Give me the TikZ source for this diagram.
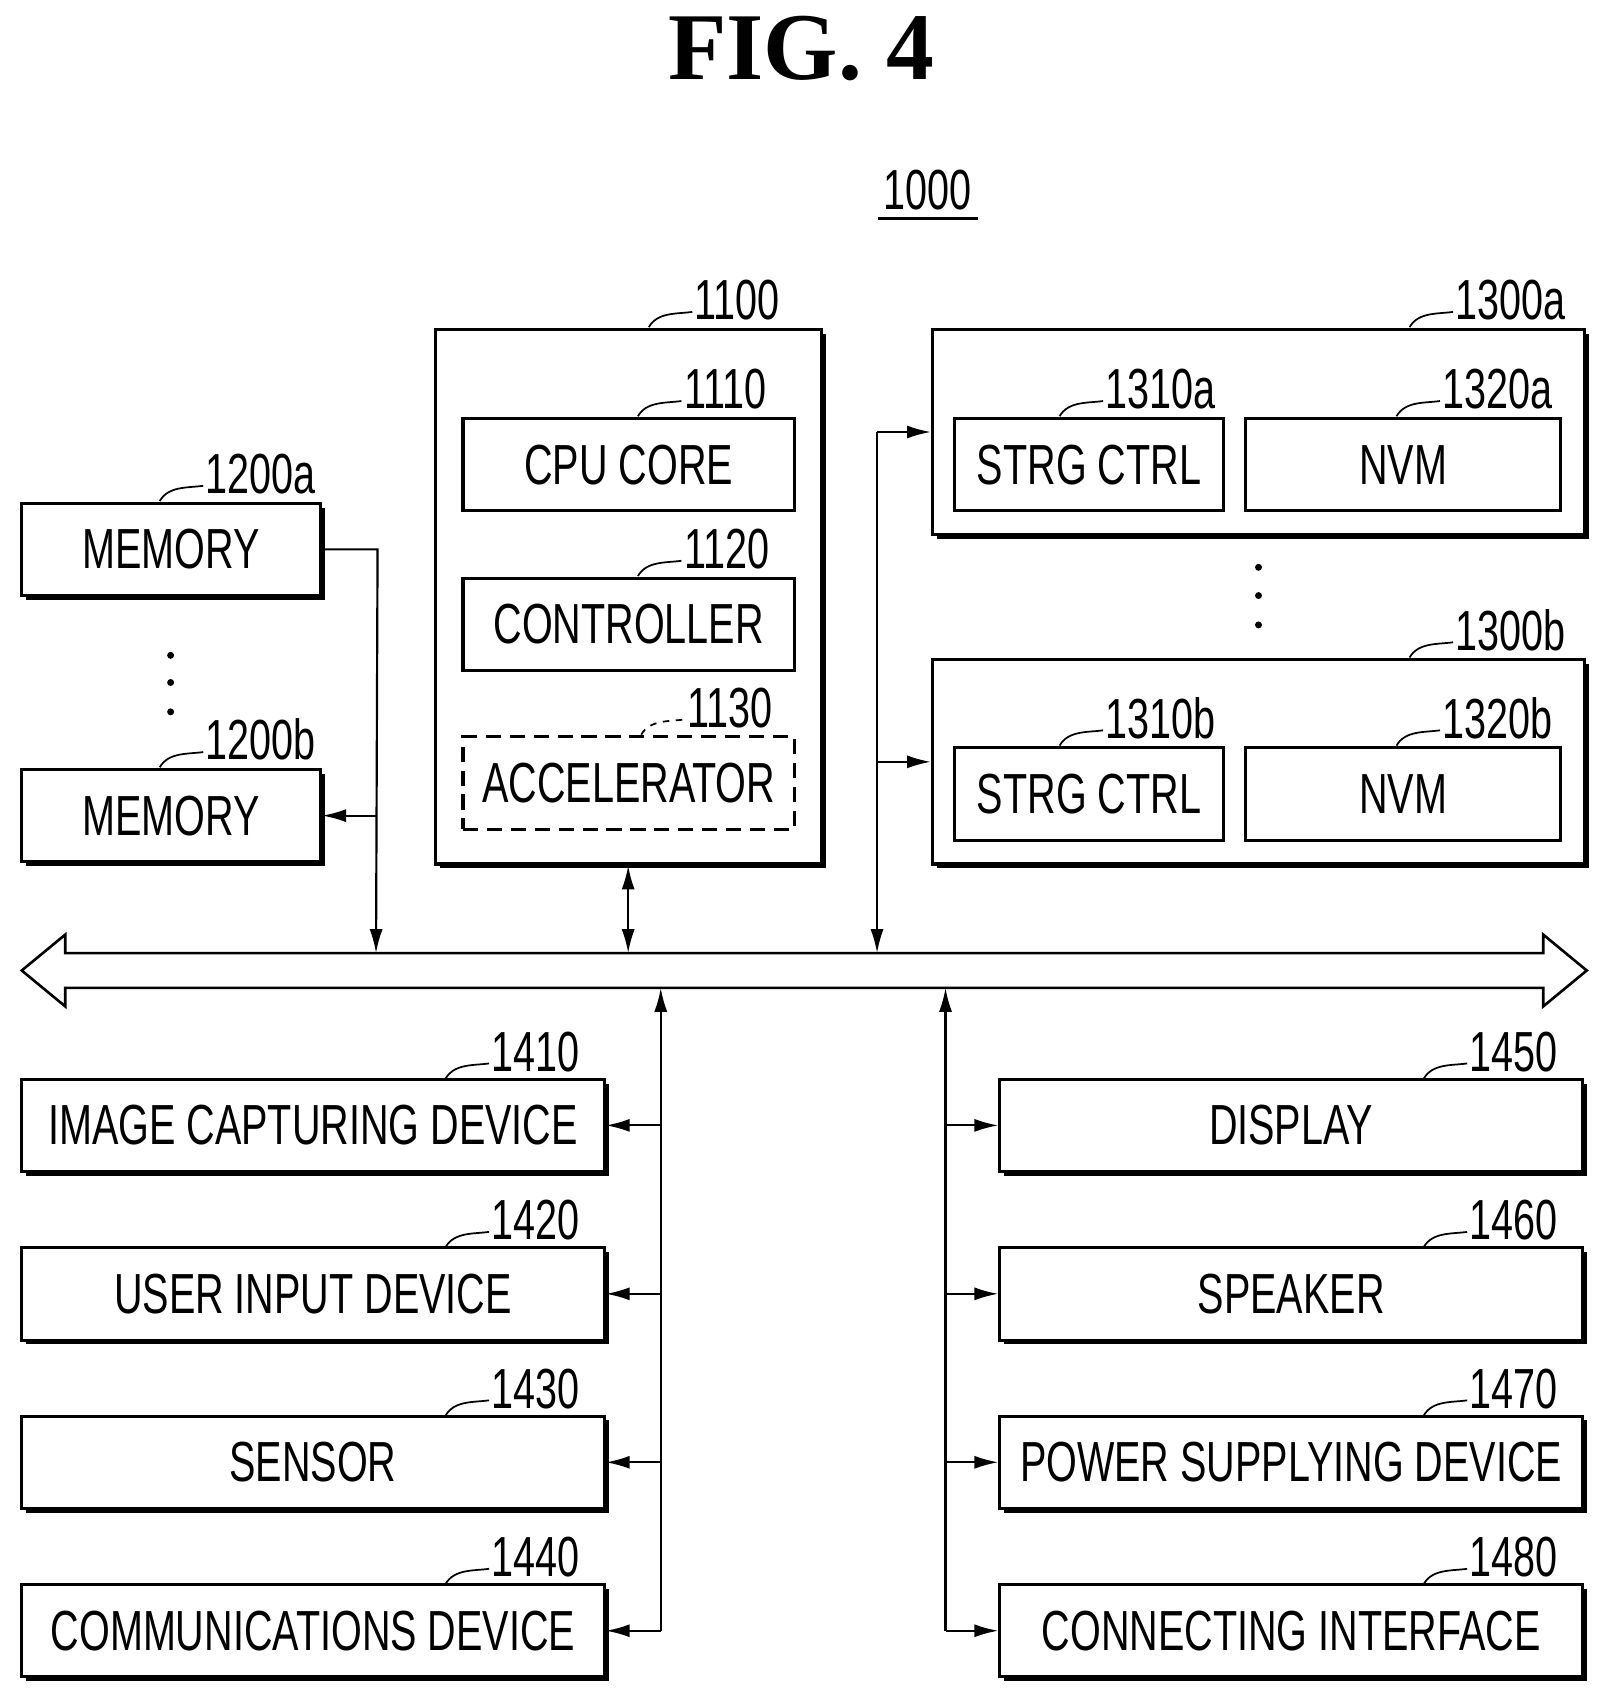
\documentclass[tikz,border=0pt]{standalone}
\usepackage{fontspec}
\setmainfont{Liberation Sans}[FakeStretch=0.7]
\newfontfamily\titlefont{Liberation Serif}
\usetikzlibrary{arrows.meta,shadows}
\newcommand\reflab[3][]{\draw[line width=0.8pt,#1] (#2) .. controls +(8,-14) and +(-14,2) .. ++(40,-14) coordinate (tmp);
  \node[lbl] at ([xshift=1pt,yshift=-4pt]tmp) {#3};}
\begin{document}
\begin{tikzpicture}[x=0.5pt,y=-0.5pt,
  box/.style={draw,line width=1.4pt,fill=white,inner sep=0pt,
    drop shadow={shadow xshift=2pt,shadow yshift=-2pt,fill=black,opacity=1},
    font=\fontsize{26}{30}\selectfont},
  ibox/.style={draw,line width=1.4pt,fill=white,inner sep=0pt,font=\fontsize{26}{30}\selectfont},
  lbl/.style={font=\fontsize{26}{30}\selectfont,anchor=south west,inner sep=0pt},
  arr/.style={line width=1pt,-{Latex[length=11pt,width=6pt]}},
  darr/.style={line width=1pt,{Latex[length=11pt,width=6pt]}-{Latex[length=11pt,width=6pt]}}]
\useasboundingbox (0,0) rectangle (1480,1567);
\node[font=\titlefont\bfseries\fontsize{44}{50}\selectfont] (title) at (737,45) {FIG. 4};
\node[font=\fontsize{26}{30}\selectfont] (sys) at (853,175) {1000};
\draw[line width=1pt] (808,201) -- (900,201);
% 1100
\node[box,minimum width=177.5pt,minimum height=246pt] (p) at (578.5,549) {};
\node[ibox,minimum width=152.5pt,minimum height=42.5pt] (cpu) at (578.5,427.5) {CPU CORE};
\node[ibox,minimum width=152.5pt,minimum height=42.5pt] (ctl) at (578.5,574.5) {CONTROLLER};
\node[ibox,dashed,dash pattern=on 7pt off 4pt,minimum width=152.5pt,minimum height=42.5pt] (acc) at (578.5,720.5) {ACCELERATOR};
\reflab{597,301}{1100}
\reflab{587,383}{1110}
\reflab{587,530}{1120}
\reflab[dashed]{590,676}{1130}
% storage
\node[box,minimum width=300pt,minimum height=94.5pt] (sa) at (1158,397.5) {};
\node[ibox,minimum width=124pt,minimum height=42.5pt] (sca) at (1002,427.5) {STRG CTRL};
\node[ibox,minimum width=145pt,minimum height=42.5pt] (nva) at (1291,427.5) {NVM};
\node[box,minimum width=300pt,minimum height=94pt] (sb) at (1158,701) {};
\node[ibox,minimum width=124pt,minimum height=42.5pt] (scb) at (1002,730.5) {STRG CTRL};
\node[ibox,minimum width=145pt,minimum height=42.5pt] (nvb) at (1291,730.5) {NVM};
\reflab{1297,301}{1300a}
\reflab{975,383}{1310a}
\reflab{1285,383}{1320a}
\reflab{1297,605}{1300b}
\reflab{975,686}{1310b}
\reflab{1285,686}{1320b}
\foreach \yy in {522,548,575} \fill (1158,\yy) circle (1.6pt);
% memory
\node[box,minimum width=137.5pt,minimum height=42.5pt] (ma) at (157.5,505.5) {MEMORY};
\node[box,minimum width=137.5pt,minimum height=42.5pt] (mb) at (157.5,750.5) {MEMORY};
\reflab{147,461}{1200a}
\reflab{147,706}{1200b}
\foreach \yy in {603,628,655} \fill (157,\yy) circle (1.6pt);
% bus
\draw[line width=1.2pt] (20,893) -- (60,860) -- (60,877) -- (1420,877) -- (1420,860) -- (1460,893) -- (1420,926) -- (1420,909) -- (60,909) -- (60,926) -- cycle;
\coordinate (bm) at (346,877);
\coordinate (bp) at (578,877);
\coordinate (bs) at (807,877);
\coordinate (bl) at (608,909);
\coordinate (br) at (870,909);
\draw[arr] (ma.east) -- ++(51,0) coordinate (mt) -- (bm);
\draw[arr] (bm |- mb.east) -- (mb.east);
\draw[darr] (p.south -| bp) -- (bp);
\draw[arr] (sca.center -| bs) ++(0,-30) coordinate (st) -- (bs);
\draw[arr] (st) -- (st -| sa.west);
\draw[arr] (bs |- sb.west) -- (sb.west);
% devices
\foreach \n/\t/\yy/\r in {i1/IMAGE CAPTURING DEVICE/1035.5/1410, i2/USER INPUT DEVICE/1190.5/1420, i3/SENSOR/1345.5/1430, i4/COMMUNICATIONS DEVICE/1500.5/1440}{
  \node[box,minimum width=268pt,minimum height=42.5pt] (\n) at (288,\yy) {\t};
  \reflab{410,\yy-43}{\r}
  \draw[arr] (bl |- \n.east) -- (\n.east);
}
\foreach \n/\t/\yy/\r in {o1/DISPLAY/1035.5/1450, o2/SPEAKER/1190.5/1460, o3/POWER SUPPLYING DEVICE/1345.5/1470, o4/CONNECTING INTERFACE/1500.5/1480}{
  \node[box,minimum width=268pt,minimum height=42.5pt] (\n) at (1188,\yy) {\t};
  \reflab{1310,\yy-43}{\r}
  \draw[arr] (br |- \n.west) -- (\n.west);
}
\draw[arr] (bl |- i4.east) -- (bl);
\draw[arr] (br |- o4.west) -- (br);
\end{tikzpicture}
\end{document}
